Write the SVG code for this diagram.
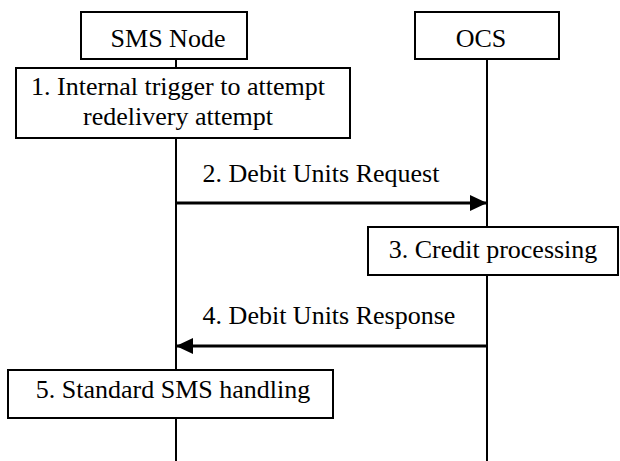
<svg xmlns="http://www.w3.org/2000/svg" width="620" height="461" viewBox="0 0 620 461">
<defs>
<style>
text{font-size:26px;fill:#000;text-anchor:middle}
.box{fill:#fff;stroke:#000;stroke-width:2}
.life{stroke:#000;stroke-width:2;fill:none}
.msg{stroke:#000;stroke-width:3;fill:none}
</style>
<marker id="ah" markerUnits="userSpaceOnUse" markerWidth="18" markerHeight="18" viewBox="0 0 18 18" refX="17" refY="9" orient="auto">
<path d="M0,1 L17,9 L0,17 Z" fill="#000"/>
</marker>
</defs>
<rect width="620" height="461" fill="#fff"/>
<g font-family="'Liberation Serif', Tinos, 'Times New Roman', Times, serif">
<g id="lifelines">
<line class="life" x1="176" y1="59" x2="176" y2="461"/>
<line class="life" x1="487" y1="59" x2="487" y2="461"/>
</g>
<g id="sms-node">
<rect class="box" x="81" y="12" width="166" height="47"/>
<text x="168" y="47">SMS Node</text>
</g>
<g id="ocs">
<rect class="box" x="415" y="12" width="144" height="47"/>
<text x="481" y="47">OCS</text>
</g>
<g id="step1">
<rect class="box" x="16" y="68" width="334" height="70"/>
<text x="178" y="95">1. Internal trigger to attempt</text>
<text x="178" y="125">redelivery attempt</text>
</g>
<g id="step3">
<rect class="box" x="368" y="227" width="250" height="48"/>
<text x="493" y="258">3. Credit processing</text>
</g>
<g id="step5">
<rect class="box" x="8" y="370" width="325" height="48"/>
<text x="173" y="398">5. Standard SMS handling</text>
</g>
<g id="connectors">
<line class="msg" x1="175" y1="203" x2="487" y2="203" marker-end="url(#ah)"/>
<text x="321" y="182">2. Debit Units Request</text>
<line class="msg" x1="488" y1="346" x2="176" y2="346" marker-end="url(#ah)"/>
<text x="329" y="324">4. Debit Units Response</text>
</g>
</g>
</svg>
